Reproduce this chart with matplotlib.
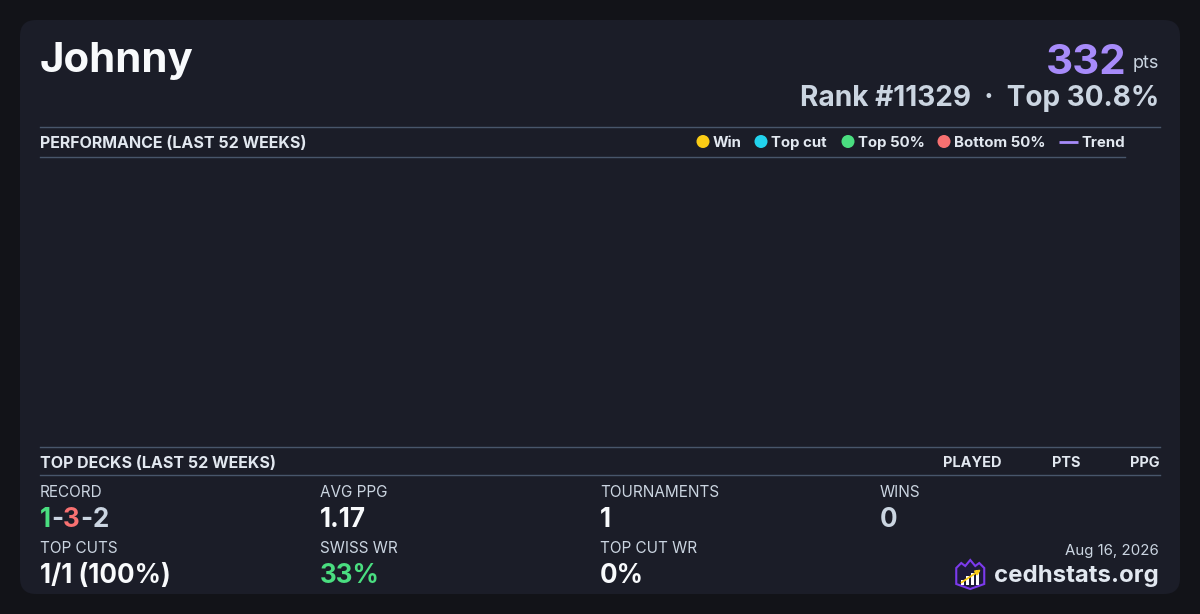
import matplotlib
matplotlib.use("Agg")
import matplotlib.pyplot as plt
from matplotlib.patches import FancyBboxPatch, Circle, Polygon, Rectangle

# ---------------- data ----------------
player_name = "Johnny"
total_points = 332
rank_position = 11329
top_percent = 30.8
perf_title = "PERFORMANCE (LAST 52 WEEKS)"
decks_title = "TOP DECKS (LAST 52 WEEKS)"
legend_labels = ["Win", "Top cut", "Top 50%", "Bottom 50%", "Trend"]
legend_colors = ["#facc15", "#22d3ee", "#4ade80", "#f87171", "#a78bfa"]
perf_weeks = []      # no events in the last 52 weeks
perf_points = []
deck_columns = ["PLAYED", "PTS", "PPG"]
record_parts = [1, 3, 2]          # wins - losses - draws
record_colors = ["#4ade80", "#f87171", "#cbd5e1"]
stat_labels_row1 = ["RECORD", "AVG PPG", "TOURNAMENTS", "WINS"]
stat_values_row1 = [None, "1.17", "1", "0"]
stat_colors_row1 = [None, "#f8fafc", "#f8fafc", "#cbd5e1"]
stat_labels_row2 = ["TOP CUTS", "SWISS WR", "TOP CUT WR"]
stat_values_row2 = ["1/1 (100%)", "33%", "0%"]
stat_colors_row2 = ["#f8fafc", "#4ade80", "#f8fafc"]
date_text = "Aug 16, 2026"
site_text = "cedhstats.org"

# ---------------- style ----------------
W, H = 1200, 614
PX = 0.72  # points per pixel at dpi 100
FONT = ["Inter", "DejaVu Sans"]
BG = "#121318"
CARD = "#1b1d28"
RULE = "#48566b"
VAL_W = "bold"

fig = plt.figure(figsize=(W / 100, H / 100), dpi=100, facecolor=BG)
ax = fig.add_axes([0, 0, 1, 1])
ax.set_xlim(0, W)
ax.set_ylim(H, 0)
ax.axis("off")

card = FancyBboxPatch((20, 20), 1160, 574, boxstyle="round,pad=0,rounding_size=16",
                      facecolor=CARD, edgecolor="none")
ax.add_patch(card)


def txt(x, y, s, px, color, weight="normal", ha="left"):
    return ax.text(x, y, s, fontsize=px * PX, color=color, fontweight=weight,
                   ha=ha, va="baseline", family=FONT)


# header
txt(40, 72, player_name, 42, "#f8fafc", "bold")
pts_t = txt(1159, 68, "pts", 18, "#cbd5e1", "normal", ha="right")
fig.canvas.draw()
r = fig.canvas.get_renderer()
bb = pts_t.get_window_extent(r)
txt(bb.x0 - 6, 74, f"{total_points}", 42, "#a78bfa", "bold", ha="right")
txt(1159, 106, f"Rank #{rank_position}  \u00b7  Top {top_percent}%", 28, "#cbd5e1", "bold", ha="right")

# performance section
ax.plot([40, 1160], [126.5, 126.5], color=RULE, lw=1)
ax.plot([40, 1125], [156.5, 156.5], color=RULE, lw=1)
txt(40, 148, perf_title, 16, "#e2e8f0", "bold")

legend_x = [703, 761, 848, 944, 1059]
for i, (lab, col) in enumerate(zip(legend_labels, legend_colors)):
    x = legend_x[i]
    if lab == "Trend":
        ax.plot([x, x + 19], [141.5, 141.5], color=col, lw=2, solid_capstyle="butt")
        txt(x + 22, 147, lab, 15, "#e2e8f0", "bold")
    else:
        ax.add_patch(Circle((x, 141.5), 6.5, facecolor=col, edgecolor="none"))
        txt(x + 10, 147, lab, 15, "#e2e8f0", "bold")

# performance plot area (empty: no events)
pax = fig.add_axes([40 / W, 1 - 440 / H, 1085 / W, 275 / H])
pax.set_facecolor("none")
pax.scatter(perf_weeks, perf_points, color=legend_colors[0])
pax.plot(perf_weeks, perf_points, color=legend_colors[4])
pax.set_xlim(0, 52)
pax.axis("off")

# top decks section
ax.plot([40, 1160], [446.5, 446.5], color=RULE, lw=1)
ax.plot([40, 1160], [474.5, 474.5], color=RULE, lw=1)
txt(40, 468, decks_title, 16, "#e2e8f0", "bold")
col_x = [972, 1066, 1160]
col_ha = ["center", "center", "right"]
for c, x, ha in zip(deck_columns, col_x, col_ha):
    txt(x, 467, c, 14.5, "#e2e8f0", "bold", ha=ha)

# stats
cols = [40, 320, 600, 880]
for i, lab in enumerate(stat_labels_row1):
    txt(cols[i], 497, lab, 15.3, "#cbd5e1", "normal")
    if stat_values_row1[i] is not None:
        txt(cols[i], 527, stat_values_row1[i], 26, stat_colors_row1[i], VAL_W)

# colored record
x = cols[0]
pieces = []
for j, (v, c) in enumerate(zip(record_parts, record_colors)):
    pieces.append((str(v), c))
    if j < len(record_parts) - 1:
        pieces.append(("-", "#cbd5e1"))
for s, c in pieces:
    t = txt(x, 527, s, 26, c, VAL_W)
    bb = t.get_window_extent(r)
    x += bb.width

for i, lab in enumerate(stat_labels_row2):
    txt(cols[i], 553, lab, 15.3, "#cbd5e1", "normal")
    txt(cols[i], 583, stat_values_row2[i], 26, stat_colors_row2[i], VAL_W)

# footer
txt(1159, 555, date_text, 15, "#cbd5e1", "normal", ha="right")
site = txt(1159, 582, site_text, 24, "#e2e8f0", "bold", ha="right")
fig.canvas.draw()
sb = site.get_window_extent(r)
lx = sb.x0 - 38  # logo left
ly0 = 560
# shield logo
shield = Polygon([(lx, ly0 + 8), (lx + 5, ly0 + 3), (lx + 9, ly0 + 6), (lx + 14, ly0),
                  (lx + 19, ly0 + 6), (lx + 23, ly0 + 3), (lx + 28, ly0 + 8),
                  (lx + 28, ly0 + 24), (lx + 14, ly0 + 29), (lx, ly0 + 24)],
                 closed=True, facecolor="#1e1b3a", edgecolor="#7c3aed", lw=1.5)
ax.add_patch(shield)
for k, h in enumerate([5, 9, 12, 15]):
    ax.add_patch(Rectangle((lx + 5 + k * 5, ly0 + 25 - h), 3.2, h, facecolor="white", edgecolor="none"))
ax.annotate("", xy=(lx + 27, ly0 + 8), xytext=(lx + 3, ly0 + 24),
            arrowprops=dict(arrowstyle="-|>", color="#facc15", lw=1.3, mutation_scale=7))

fig.savefig("out.png", dpi=100, facecolor=BG)
